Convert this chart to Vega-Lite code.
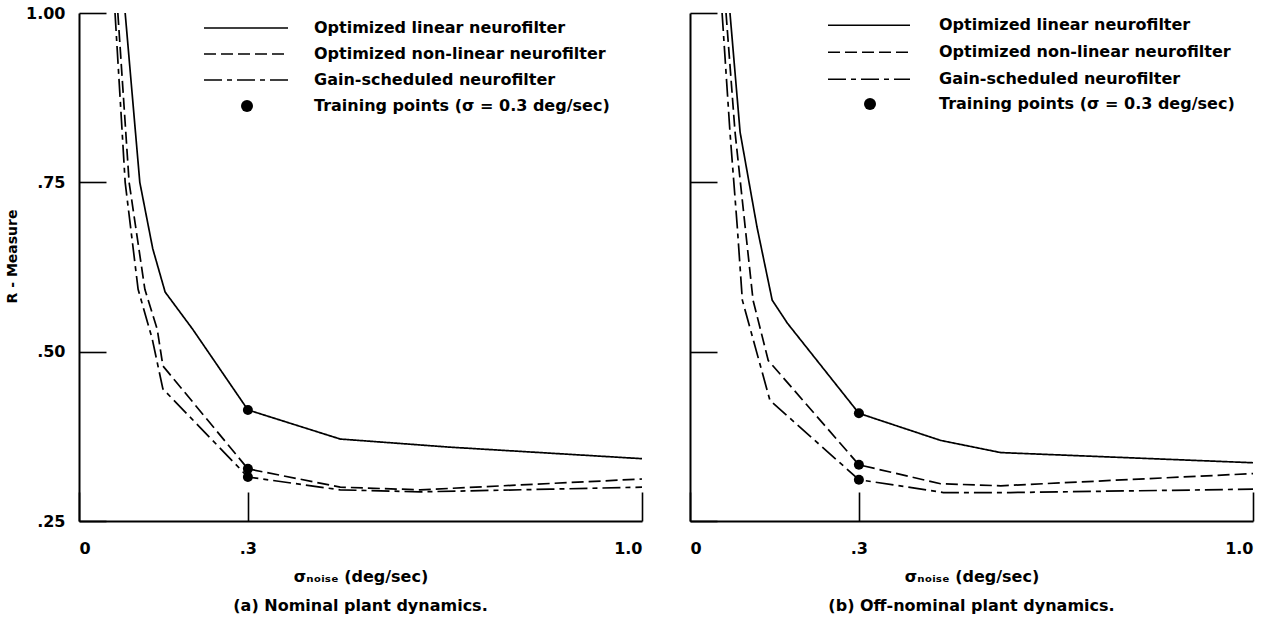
{
  "$schema": "https://vega.github.io/schema/vega-lite/v6.json",
  "background": "white",
  "padding": {"left": 5, "top": 5, "right": 5, "bottom": 5},
  "spacing": 43,
  "config": {
    "view": {"stroke": null},
    "font": "DejaVu Sans",
    "axis": {
      "grid": false,
      "domainColor": "black",
      "domainWidth": 2,
      "tickColor": "black",
      "tickWidth": 1.6,
      "labelFont": "DejaVu Sans",
      "labelFontWeight": "bold",
      "labelFontSize": 16,
      "labelColor": "black",
      "titleFont": "DejaVu Sans",
      "titleFontWeight": "bold",
      "titleColor": "black"
    },
    "legend": {
      "labelFont": "DejaVu Sans", "labelFontWeight": "bold", "labelFontSize": 16, "labelColor": "black",
      "labelLimit": 600, "rowPadding": 0, "padding": 0, "direction": "vertical"
    },
    "title": {"font": "DejaVu Sans", "fontWeight": "bold", "fontSize": 16, "color": "black"}
  },
  "datasets": {
    "curves": [
      {"p": "a", "s": "Optimized linear neurofilter", "x": 0.082, "y": 1.0, "t": 0},
      {"p": "a", "s": "Optimized linear neurofilter", "x": 0.108, "y": 0.75, "t": 0},
      {"p": "a", "s": "Optimized linear neurofilter", "x": 0.131, "y": 0.652, "t": 0},
      {"p": "a", "s": "Optimized linear neurofilter", "x": 0.153, "y": 0.588, "t": 0},
      {"p": "a", "s": "Optimized linear neurofilter", "x": 0.202, "y": 0.533, "t": 0},
      {"p": "a", "s": "Optimized linear neurofilter", "x": 0.3, "y": 0.414, "t": 1},
      {"p": "a", "s": "Optimized linear neurofilter", "x": 0.464, "y": 0.371, "t": 0},
      {"p": "a", "s": "Optimized linear neurofilter", "x": 0.659, "y": 0.359, "t": 0},
      {"p": "a", "s": "Optimized linear neurofilter", "x": 1.0, "y": 0.342, "t": 0},
      {"p": "a", "s": "Optimized non-linear neurofilter", "x": 0.069, "y": 1.0, "t": 0},
      {"p": "a", "s": "Optimized non-linear neurofilter", "x": 0.089, "y": 0.75, "t": 0},
      {"p": "a", "s": "Optimized non-linear neurofilter", "x": 0.117, "y": 0.592, "t": 0},
      {"p": "a", "s": "Optimized non-linear neurofilter", "x": 0.139, "y": 0.533, "t": 0},
      {"p": "a", "s": "Optimized non-linear neurofilter", "x": 0.149, "y": 0.479, "t": 0},
      {"p": "a", "s": "Optimized non-linear neurofilter", "x": 0.3, "y": 0.327, "t": 1},
      {"p": "a", "s": "Optimized non-linear neurofilter", "x": 0.464, "y": 0.3, "t": 0},
      {"p": "a", "s": "Optimized non-linear neurofilter", "x": 0.606, "y": 0.296, "t": 0},
      {"p": "a", "s": "Optimized non-linear neurofilter", "x": 1.0, "y": 0.312, "t": 0},
      {"p": "a", "s": "Gain-scheduled neurofilter", "x": 0.064, "y": 1.0, "t": 0},
      {"p": "a", "s": "Gain-scheduled neurofilter", "x": 0.082, "y": 0.75, "t": 0},
      {"p": "a", "s": "Gain-scheduled neurofilter", "x": 0.105, "y": 0.592, "t": 0},
      {"p": "a", "s": "Gain-scheduled neurofilter", "x": 0.13, "y": 0.519, "t": 0},
      {"p": "a", "s": "Gain-scheduled neurofilter", "x": 0.149, "y": 0.445, "t": 0},
      {"p": "a", "s": "Gain-scheduled neurofilter", "x": 0.3, "y": 0.315, "t": 1},
      {"p": "a", "s": "Gain-scheduled neurofilter", "x": 0.464, "y": 0.296, "t": 0},
      {"p": "a", "s": "Gain-scheduled neurofilter", "x": 0.606, "y": 0.293, "t": 0},
      {"p": "a", "s": "Gain-scheduled neurofilter", "x": 0.837, "y": 0.297, "t": 0},
      {"p": "a", "s": "Gain-scheduled neurofilter", "x": 1.0, "y": 0.3, "t": 0},
      {"p": "b", "s": "Optimized linear neurofilter", "x": 0.071, "y": 1.0, "t": 0},
      {"p": "b", "s": "Optimized linear neurofilter", "x": 0.089, "y": 0.824, "t": 0},
      {"p": "b", "s": "Optimized linear neurofilter", "x": 0.119, "y": 0.684, "t": 0},
      {"p": "b", "s": "Optimized linear neurofilter", "x": 0.146, "y": 0.576, "t": 0},
      {"p": "b", "s": "Optimized linear neurofilter", "x": 0.173, "y": 0.542, "t": 0},
      {"p": "b", "s": "Optimized linear neurofilter", "x": 0.3, "y": 0.409, "t": 1},
      {"p": "b", "s": "Optimized linear neurofilter", "x": 0.445, "y": 0.369, "t": 0},
      {"p": "b", "s": "Optimized linear neurofilter", "x": 0.552, "y": 0.351, "t": 0},
      {"p": "b", "s": "Optimized linear neurofilter", "x": 1.0, "y": 0.336, "t": 0},
      {"p": "b", "s": "Optimized non-linear neurofilter", "x": 0.064, "y": 1.0, "t": 0},
      {"p": "b", "s": "Optimized non-linear neurofilter", "x": 0.08, "y": 0.824, "t": 0},
      {"p": "b", "s": "Optimized non-linear neurofilter", "x": 0.098, "y": 0.684, "t": 0},
      {"p": "b", "s": "Optimized non-linear neurofilter", "x": 0.112, "y": 0.576, "t": 0},
      {"p": "b", "s": "Optimized non-linear neurofilter", "x": 0.139, "y": 0.487, "t": 0},
      {"p": "b", "s": "Optimized non-linear neurofilter", "x": 0.3, "y": 0.333, "t": 1},
      {"p": "b", "s": "Optimized non-linear neurofilter", "x": 0.445, "y": 0.305, "t": 0},
      {"p": "b", "s": "Optimized non-linear neurofilter", "x": 0.552, "y": 0.302, "t": 0},
      {"p": "b", "s": "Optimized non-linear neurofilter", "x": 1.0, "y": 0.32, "t": 0},
      {"p": "b", "s": "Gain-scheduled neurofilter", "x": 0.057, "y": 1.0, "t": 0},
      {"p": "b", "s": "Gain-scheduled neurofilter", "x": 0.071, "y": 0.824, "t": 0},
      {"p": "b", "s": "Gain-scheduled neurofilter", "x": 0.084, "y": 0.684, "t": 0},
      {"p": "b", "s": "Gain-scheduled neurofilter", "x": 0.093, "y": 0.576, "t": 0},
      {"p": "b", "s": "Gain-scheduled neurofilter", "x": 0.142, "y": 0.428, "t": 0},
      {"p": "b", "s": "Gain-scheduled neurofilter", "x": 0.3, "y": 0.311, "t": 1},
      {"p": "b", "s": "Gain-scheduled neurofilter", "x": 0.45, "y": 0.292, "t": 0},
      {"p": "b", "s": "Gain-scheduled neurofilter", "x": 0.569, "y": 0.292, "t": 0},
      {"p": "b", "s": "Gain-scheduled neurofilter", "x": 1.0, "y": 0.297, "t": 0}
    ]
  },
  "resolve": {
    "scale": {"strokeDash": "independent", "shape": "independent"},
    "legend": {"strokeDash": "independent", "shape": "independent"}
  },
  "hconcat": [
    {
      "width": 563,
      "height": 508,
      "title": {"text": "(a) Nominal plant dynamics.", "orient": "bottom", "anchor": "middle", "offset": 14},
      "data": {"name": "curves"},
      "transform": [{"filter": "datum.p === 'a'"}],
      "layer": [
        {
          "mark": {"type": "line", "color": "black", "strokeWidth": 1.7},
          "encoding": {
            "x": {
              "field": "x", "type": "quantitative",
              "scale": {"domain": [0, 1], "nice": false, "zero": false},
              "axis": {
                "values": [0, 0.3, 1],
                "labelExpr": "datum.value == 0 ? '0' : (datum.value == 1 ? '1.0' : '.3')",
                "tickSize": -29,
                "labelPadding": 48,
                "title": "σₙₒᵢₛₑ (deg/sec)",
                "titleFontSize": 16,
                "titlePadding": 12
              }
            },
            "y": {
              "field": "y", "type": "quantitative",
              "scale": {"domain": [0.25, 1], "nice": false, "zero": false},
              "axis": {
                "values": [0.25, 0.5, 0.75, 1],
                "labelExpr": "datum.value == 1 ? '1.00' : (datum.value == 0.75 ? '.75' : (datum.value == 0.5 ? '.50' : '.25'))",
                "tickSize": -27,
                "labelPadding": 41,
                "title": "R - Measure",
                "titleFontSize": 14,
                "titlePadding": 6,
                "titleY": 243
              }
            },
            "strokeDash": {
              "field": "s", "type": "nominal",
              "scale": {
                "domain": ["Optimized linear neurofilter", "Optimized non-linear neurofilter", "Gain-scheduled neurofilter"],
                "range": [[1, 0], [12, 5], [18, 5, 5, 5]]
              },
              "legend": {
                "orient": "none", "legendX": 124, "legendY": 2, "title": null,
                "symbolType": "stroke", "symbolSize": 7056, "symbolStrokeWidth": 1.7, "symbolStrokeColor": "black",
                "labelOffset": 25, "clipHeight": 26
              }
            }
          }
        },
        {
          "transform": [{"filter": "datum.t === 1"}],
          "mark": {"type": "point", "filled": true, "color": "black", "opacity": 1, "size": 100},
          "encoding": {
            "x": {"field": "x", "type": "quantitative"},
            "y": {"field": "y", "type": "quantitative"},
            "shape": {
              "datum": "Training points (σ = 0.3 deg/sec)", "type": "nominal",
              "scale": {"range": ["circle"]},
              "legend": {
                "orient": "none", "legendX": 160, "legendY": 80, "title": null,
                "symbolSize": 144, "symbolFillColor": "black", "symbolStrokeColor": "black", "symbolStrokeWidth": 0,
                "labelOffset": 59, "clipHeight": 26
              }
            }
          }
        }
      ]
    },
    {
      "width": 563,
      "height": 508,
      "title": {"text": "(b) Off-nominal plant dynamics.", "orient": "bottom", "anchor": "middle", "offset": 14},
      "data": {"name": "curves"},
      "transform": [{"filter": "datum.p === 'b'"}],
      "layer": [
        {
          "mark": {"type": "line", "color": "black", "strokeWidth": 1.7},
          "encoding": {
            "x": {
              "field": "x", "type": "quantitative",
              "scale": {"domain": [0, 1], "nice": false, "zero": false},
              "axis": {
                "values": [0, 0.3, 1],
                "labelExpr": "datum.value == 0 ? '0' : (datum.value == 1 ? '1.0' : '.3')",
                "tickSize": -29,
                "labelPadding": 48,
                "title": "σₙₒᵢₛₑ (deg/sec)",
                "titleFontSize": 16,
                "titlePadding": 12
              }
            },
            "y": {
              "field": "y", "type": "quantitative",
              "scale": {"domain": [0.25, 1], "nice": false, "zero": false},
              "axis": {
                "values": [0.25, 0.5, 0.75, 1],
                "labels": false,
                "tickSize": -27,
                "title": null
              }
            },
            "strokeDash": {
              "field": "s", "type": "nominal",
              "scale": {
                "domain": ["Optimized linear neurofilter", "Optimized non-linear neurofilter", "Gain-scheduled neurofilter"],
                "range": [[1, 0], [12, 5], [18, 5, 5, 5]]
              },
              "legend": {
                "orient": "none", "legendX": 137, "legendY": -1, "title": null,
                "symbolType": "stroke", "symbolSize": 6724, "symbolStrokeWidth": 1.7, "symbolStrokeColor": "black",
                "labelOffset": 28, "clipHeight": 26.5
              }
            }
          }
        },
        {
          "transform": [{"filter": "datum.t === 1"}],
          "mark": {"type": "point", "filled": true, "color": "black", "opacity": 1, "size": 100},
          "encoding": {
            "x": {"field": "x", "type": "quantitative"},
            "y": {"field": "y", "type": "quantitative"},
            "shape": {
              "datum": "Training points (σ = 0.3 deg/sec)", "type": "nominal",
              "scale": {"range": ["circle"]},
              "legend": {
                "orient": "none", "legendX": 172, "legendY": 78, "title": null,
                "symbolSize": 144, "symbolFillColor": "black", "symbolStrokeColor": "black", "symbolStrokeWidth": 0,
                "labelOffset": 61, "clipHeight": 26
              }
            }
          }
        }
      ]
    }
  ]
}
